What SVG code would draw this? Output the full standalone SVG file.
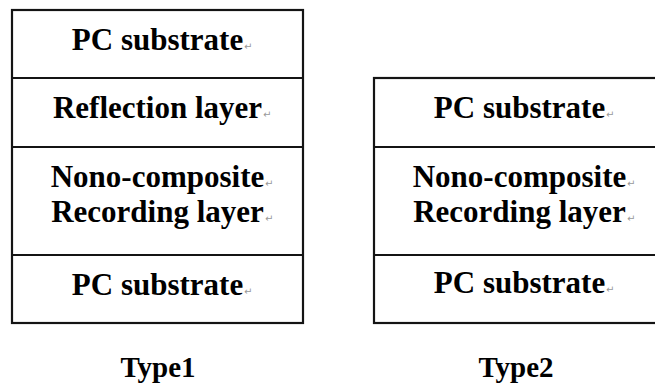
<svg xmlns="http://www.w3.org/2000/svg" width="655" height="387" viewBox="0 0 655 387">
  <style>
    .box { fill: #fff; stroke: #141414; stroke-width: 2.2; }
    .div { stroke: #141414; stroke-width: 2.2; }
    .lbl { font-family: 'Liberation Serif', 'Times New Roman', serif; font-weight: bold; font-size: 31px; fill: #000; text-anchor: middle; }
    .cap { font-family: 'Liberation Serif', 'Times New Roman', serif; font-weight: bold; font-size: 29px; fill: #000; text-anchor: middle; }
    .ret { font-family: 'DejaVu Sans', sans-serif; font-size: 10px; fill: #999; }
  </style>
  <rect width="655" height="387" fill="#fff"/>

  <!-- Type1 stack: four layers -->
  <g id="type1">
    <rect class="box" x="12" y="10" width="291" height="313"/>
    <line class="div" x1="12" y1="78" x2="303" y2="78"/>
    <line class="div" x1="12" y1="147" x2="303" y2="147"/>
    <line class="div" x1="12" y1="255" x2="303" y2="255"/>
    <text class="lbl" x="157.5" y="50">PC substrate</text>
    <text class="ret" x="244" y="50">↵</text>
    <text class="lbl" x="157.5" y="118">Reflection layer</text>
    <text class="ret" x="263" y="118">↵</text>
    <text class="lbl" x="157.5" y="187">Nono-composite</text>
    <text class="ret" x="265" y="187">↵</text>
    <text class="lbl" x="157.5" y="222">Recording layer</text>
    <text class="ret" x="265" y="222">↵</text>
    <text class="lbl" x="157.5" y="295">PC substrate</text>
    <text class="ret" x="244" y="295">↵</text>
    <text class="cap" x="158" y="377">Type1</text>
  </g>

  <!-- Type2 stack: three layers, right side runs past the frame -->
  <g id="type2">
    <rect class="box" x="374" y="78" width="291" height="245"/>
    <line class="div" x1="374" y1="147" x2="665" y2="147"/>
    <line class="div" x1="374" y1="255" x2="665" y2="255"/>
    <text class="lbl" x="519.5" y="118">PC substrate</text>
    <text class="ret" x="606" y="118">↵</text>
    <text class="lbl" x="519.5" y="187">Nono-composite</text>
    <text class="ret" x="627" y="187">↵</text>
    <text class="lbl" x="519.5" y="222">Recording layer</text>
    <text class="ret" x="627" y="222">↵</text>
    <text class="lbl" x="519.5" y="293">PC substrate</text>
    <text class="ret" x="606" y="293">↵</text>
    <text class="cap" x="516" y="377">Type2</text>
  </g>

  <!-- no connectors in this figure -->
  <g id="connectors"/>
</svg>
